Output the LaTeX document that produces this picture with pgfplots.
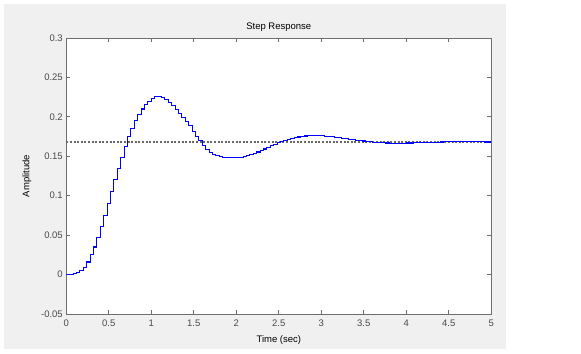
\documentclass[border=0pt]{standalone}
\usepackage{fontspec}
\setmainfont{Liberation Sans}
\usepackage{pgfplots}
\usepackage{pgfplotstable}
\pgfplotsset{compat=1.18}
\definecolor{bggray}{HTML}{F0F0F0}
\definecolor{axgray}{HTML}{6E6E6E}
\definecolor{lblgray}{HTML}{4A4A4A}
\definecolor{refgray}{HTML}{686868}
\definecolor{mblue}{rgb}{0,0,1}
\pgfplotstableread{
t y
0.00 0.0000
0.04 0.0000
0.08 0.0010
0.12 0.0025
0.16 0.0050
0.20 0.0090
0.24 0.0160
0.28 0.0250
0.32 0.0350
0.36 0.0470
0.40 0.0610
0.44 0.0750
0.48 0.0900
0.52 0.1050
0.56 0.1200
0.60 0.1350
0.64 0.1490
0.68 0.1620
0.72 0.1750
0.76 0.1850
0.80 0.1950
0.84 0.2030
0.88 0.2100
0.92 0.2160
0.96 0.2200
1.00 0.2235
1.04 0.2255
1.08 0.2260
1.12 0.2245
1.16 0.2215
1.20 0.2185
1.24 0.2145
1.28 0.2090
1.32 0.2045
1.36 0.1990
1.40 0.1940
1.44 0.1885
1.48 0.1815
1.52 0.1750
1.56 0.1695
1.60 0.1635
1.64 0.1590
1.68 0.1550
1.72 0.1525
1.76 0.1505
1.80 0.1495
1.84 0.1490
1.88 0.1487
1.92 0.1486
1.96 0.1486
2.00 0.1487
2.04 0.1490
2.08 0.1495
2.12 0.1505
2.16 0.1520
2.20 0.1535
2.24 0.1555
2.28 0.1575
2.32 0.1592
2.36 0.1612
2.40 0.1632
2.44 0.1652
2.48 0.1670
2.52 0.1687
2.56 0.1702
2.60 0.1715
2.64 0.1727
2.68 0.1737
2.72 0.1745
2.76 0.1752
2.80 0.1757
2.84 0.1760
2.88 0.1761
2.92 0.1761
2.96 0.1760
3.00 0.1758
3.04 0.1755
3.08 0.1751
3.12 0.1747
3.16 0.1742
3.20 0.1736
3.24 0.1730
3.28 0.1724
3.32 0.1717
3.36 0.1711
3.40 0.1705
3.44 0.1699
3.48 0.1694
3.52 0.1689
3.56 0.1684
3.60 0.1680
3.64 0.1676
3.68 0.1673
3.72 0.1670
3.76 0.1668
3.80 0.1667
3.84 0.1666
3.88 0.1666
3.92 0.1666
3.96 0.1667
4.00 0.1668
4.04 0.1669
4.08 0.1671
4.12 0.1672
4.16 0.1674
4.20 0.1676
4.24 0.1677
4.28 0.1678
4.32 0.1679
4.36 0.1680
4.40 0.1681
4.44 0.1682
4.48 0.1682
4.52 0.1683
4.56 0.1683
4.60 0.1683
4.64 0.1683
4.68 0.1683
4.72 0.1683
4.76 0.1683
4.80 0.1682
4.84 0.1682
4.88 0.1682
4.92 0.1681
4.96 0.1681
5.00 0.1681
}\steptable
\begin{document}
\begin{tikzpicture}[x=1bp,y=1bp,font=\fontsize{9.5bp}{11bp}\selectfont]
\fill[white] (-66.3,-39) rectangle (514.7,314);
\fill[bggray] (-61.8,-35) rectangle (440,310);
\begin{axis}[
  name=ax,
  at={(0,0)}, anchor=south west,
  width=425bp, height=276bp, scale only axis,
  xmin=0, xmax=5, ymin=-0.05, ymax=0.3,
  axis background/.style={fill=white},
  xtick={0,0.5,1,1.5,2,2.5,3,3.5,4,4.5,5},
  xticklabels={0,0.5,1,1.5,2,2.5,3,3.5,4,4.5,5},
  ytick={-0.05,0,0.05,0.1,0.15,0.2,0.25,0.3},
  yticklabels={-0.05,0,0.05,0.1,0.15,0.2,0.25,0.3},
  tick align=inside, tick pos=both,
  major tick length=4bp,
  every tick/.style={axgray, line width=0.8bp},
  axis line style={axgray, line width=1bp},
  tick label style={font=\fontsize{9.5bp}{11bp}\selectfont, text=lblgray},
  xticklabel style={yshift=-2bp},
]
\addplot[refgray, line width=1.2bp, dash pattern=on 2bp off 1.6bp] coordinates {(0,0.168) (5,0.168)};
\addplot[const plot, color=mblue, line width=1.1bp] table[x=t,y=y] {\steptable};
\end{axis}
\node[anchor=center] at (212.5,287.3) {Step Response};
\node[anchor=center] at (212.5,-26) {Time (sec)};
\node[anchor=center, rotate=90] at (-39.3,138) {Amplitude};
\end{tikzpicture}
\end{document}
